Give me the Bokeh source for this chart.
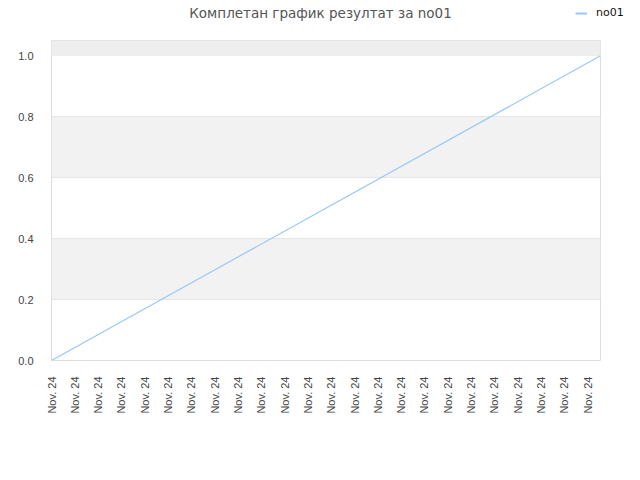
from bokeh.plotting import figure
from bokeh.models import Range1d, FixedTicker, BoxAnnotation, Legend, LegendItem, Label, ColumnDataSource
from bokeh.layouts import column
from bokeh.embed import file_html
from bokeh.resources import INLINE
import math

# Data
title_text = "Комплетан график резултат за no01"
series_name = "no01"
series_x = [0.0, 23.55]
series_y = [0.0, 1.0]
tick_labels = ["Nov. 24"] * 24
tick_positions = list(range(24))
y_ticks = [0.0, 0.2, 0.4, 0.6, 0.8, 1.0]

LINE_COLOR = "#99c8f7"

# Header (title + legend)
header = figure(width=640, height=36, output_backend="svg", toolbar_location=None,
                x_range=Range1d(0, 640), y_range=Range1d(0, 36),
                x_axis_location=None, y_axis_location=None,
                min_border=0, min_border_left=0, min_border_right=0,
                min_border_top=0, min_border_bottom=0)
header.frame_align = False
header.grid.visible = False
header.outline_line_color = None
header.background_fill_color = "white"
header.border_fill_color = "white"
header.add_layout(Label(x=320, y=24, x_units="screen", y_units="screen", text=title_text,
                        text_align="center", text_baseline="middle",
                        text_font="DejaVu Sans", text_font_size="13.5px", text_color="#555555"))
# legend swatch renderer: same series, not visible in the header's ranges
legend_src = ColumnDataSource(dict(x=[float("nan")] * len(series_x), y=[float("nan")] * len(series_y)))
dummy = header.line("x", "y", source=legend_src, line_color=LINE_COLOR, line_width=2)
legend = Legend(items=[LegendItem(label=series_name, renderers=[dummy])],
                location=(575, 17), border_line_color=None, background_fill_alpha=0,
                label_text_font="DejaVu Sans", label_text_font_size="11px", label_text_color="#111111",
                glyph_width=12, glyph_height=10, label_standoff=9, padding=0, margin=0,
                label_height=12)
header.add_layout(legend, "center")

# Main chart
p = figure(width=640, height=444, output_backend="svg", toolbar_location=None,
           x_range=Range1d(0, 23.55), y_range=Range1d(0, 1.05),
           min_border_left=51, min_border_right=40, min_border_top=4, min_border_bottom=120)
p.frame_align = False
p.background_fill_color = "white"
p.border_fill_color = "white"
p.outline_line_color = "#dddddd"

p.ygrid.grid_line_color = "#e6e6e6"
p.ygrid.band_fill_color = "#f2f2f2"
p.ygrid.band_fill_alpha = 1.0
p.xgrid.grid_line_color = None
p.add_layout(BoxAnnotation(bottom=1.0, top=1.05, fill_color="#eeeeee", fill_alpha=1.0,
                           line_color=None, level="underlay"))

p.line(series_x, series_y, line_color=LINE_COLOR, line_width=1.2)

p.xaxis.ticker = FixedTicker(ticks=tick_positions)
p.xaxis.major_label_overrides = {i: lab for i, lab in zip(tick_positions, tick_labels)}
p.xaxis.major_label_orientation = math.pi / 2
p.yaxis.ticker = FixedTicker(ticks=y_ticks)
p.yaxis.major_label_overrides = {v: f"{v:.1f}" for v in y_ticks}
for ax in (p.xaxis[0], p.yaxis[0]):
    ax.axis_line_color = None
    ax.major_tick_line_color = None
    ax.minor_tick_line_color = None
    ax.major_label_text_font = "Liberation Sans"
    ax.major_label_text_font_size = "11px"
    ax.major_label_text_color = "#444444"
    ax.major_label_standoff = 10
p.yaxis.major_label_standoff = 12

layout = column(header, p, spacing=0)
open("out.html", "w").write(file_html(layout, INLINE))
